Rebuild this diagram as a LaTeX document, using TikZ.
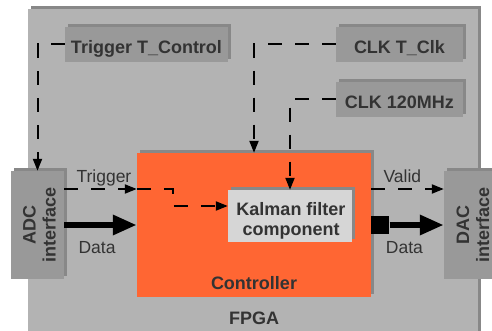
\documentclass[tikz,border=0pt]{standalone}
\usepackage{fontspec}
\setmainfont{Liberation Sans}
\usetikzlibrary{positioning,shadows,arrows.meta}
\definecolor{fpgagray}{HTML}{B3B3B3}
\definecolor{boxgray}{HTML}{999999}
\definecolor{shadegray}{HTML}{888888}
\definecolor{kalgray}{HTML}{D6D6D6}
\definecolor{ctrlorange}{HTML}{FF6633}
\definecolor{txtgray}{HTML}{333333}

\begin{document}
\begin{tikzpicture}[x=1pt,y=-1pt,
    font=\fontsize{17.5}{20}\selectfont,
    blk/.style={fill=#1,inner sep=0pt,
      drop shadow={shadow xshift=3pt,shadow yshift=3pt,fill=shadegray,opacity=1}},
    bold/.style={text=txtgray,font=\fontsize{18}{20}\selectfont\bfseries},
    onetext/.style={text height=18pt,text depth=0pt},
    sig/.style={line width=2pt,dash pattern=on 14pt off 13pt,-{Triangle[length=12pt,width=9pt]}},
    bus/.style={line width=6pt,-{Triangle[length=24pt,width=19pt]}},
    lbl/.style={text=txtgray,anchor=base west}]
            \useasboundingbox (0,0) rectangle (492,331);

            \node[blk=fpgagray,minimum width=450pt,minimum height=336pt] (fpga) at (253,177) {};
            \node[bold,anchor=base] (fpgalbl) at (254,324.5) {FPGA};

            \node[blk=boxgray,bold,onetext,minimum width=163pt,minimum height=35pt] (trig) at (146.5,44.5) {Trigger T\_Control};
            \node[blk=boxgray,bold,onetext,minimum width=127pt,minimum height=35pt] (clkt) at (399.5,44.5) {CLK T\_Clk};
            \node[blk=boxgray,bold,onetext,minimum width=127pt,minimum height=35pt] (clkmhz) at (399.5,99.5) {CLK 120MHz};

            \node[blk=ctrlorange,minimum width=234pt,minimum height=144pt] (ctrl) at (254,225) {};
            \node[bold,anchor=base] (ctrllbl) at ([yshift=7.5pt]ctrl.south) {Controller};
            \node[blk=kalgray,minimum width=124pt,minimum height=52pt] (kalman) at (290,216) {};
            \node[bold,align=center] (kalmantxt) at ([xshift=1pt,yshift=-4.5pt]kalman.center) {Kalman filter\\component};

            \node[blk=boxgray,minimum width=53pt,minimum height=108pt] (adc) at (37.5,225) {};
            \node[bold,rotate=90,align=center] (adctxt) at ([xshift=2pt]adc.center) {ADC\\interface};
            \node[blk=boxgray,minimum width=56pt,minimum height=107pt] (dac) at (472,225) {};
            \node[bold,rotate=90,align=center] (dactxt) at ([xshift=1pt]dac.center) {DAC\\interface};
            \node[fill=black,minimum size=18pt,inner sep=0pt,anchor=west] (dsq) at (ctrl.east) {};

            % control and clock lines
            \draw[sig] (trig.west) -| (adc.north);
            \draw[sig] (clkt.west) -| (ctrl.north);
            \draw[sig] (clkmhz.west) -| (kalman.north);

            % inputs
            \draw[sig] ([yshift=36pt]adc.east) -- node[lbl,pos=0,xshift=8pt,yshift=6.5pt]{Trigger} ([yshift=36pt]ctrl.west);
            \draw[sig] ([yshift=36pt]ctrl.west) -- ++(36,0) |- ([yshift=10pt]kalman.west);
            \draw[bus] (adc.east) -- node[lbl,pos=0,xshift=8pt,yshift=-28.5pt]{Data} (ctrl.west);

            % outputs
            \draw[sig] ([yshift=36pt]ctrl.east) -- node[lbl,pos=0,xshift=8pt,yshift=6.5pt]{Valid} ([yshift=36pt]dac.west);
            \draw[bus] (dsq.east) -- node[lbl,pos=0,xshift=-10pt,yshift=-28.5pt]{Data} (dac.west);
        \end{tikzpicture}
\end{document}
